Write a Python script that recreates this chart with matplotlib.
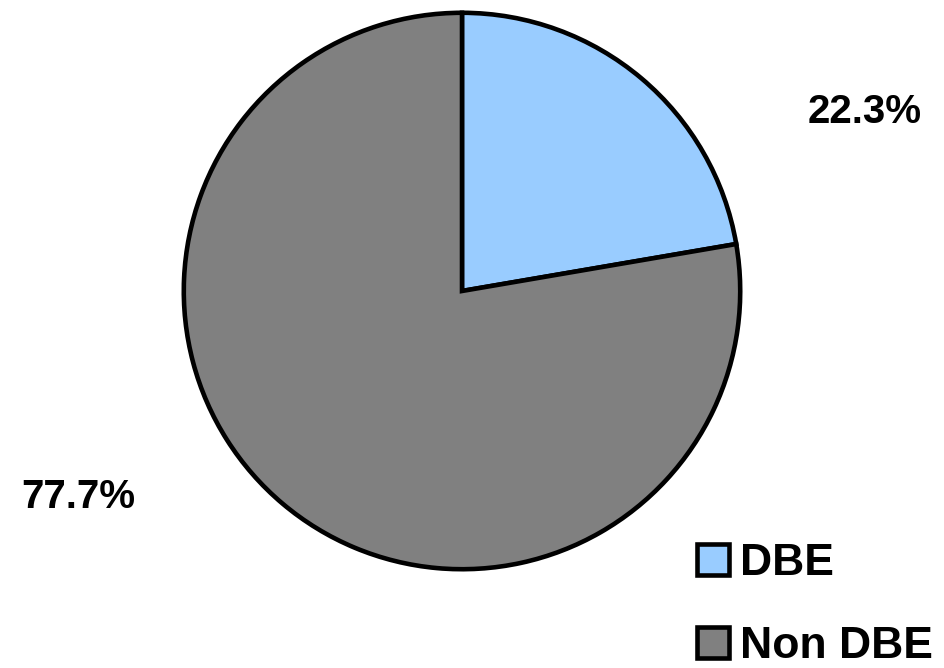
import matplotlib.pyplot as plt

labels = ['DBE', 'Non DBE']
shares = [22.3, 77.7]
colours = ['#99CCFF', '#808080']

plt.rcParams['font.family'] = ['Liberation Sans', 'DejaVu Sans']

fig = plt.figure(figsize=(9.44, 6.68), dpi=100)
ax = fig.add_axes([181 / 944, 96 / 668, 562 / 944, 562 / 668])
wedges, _ = ax.pie(shares, colors=colours, startangle=90, counterclock=False,
                   wedgeprops=dict(edgecolor='black', linewidth=3.3))
ax.set_xlim(-1.01, 1.01)
ax.set_ylim(-1.01, 1.01)
ax.set_aspect('equal')

# percentage labels, placed like the original
fig.text(865 / 944, 1 - 112 / 668, f'{shares[0]:.1f}%', ha='center', va='center',
         fontsize=29, fontweight='bold')
fig.text(78 / 944, 1 - 497 / 668, f'{shares[1]:.1f}%', ha='center', va='center',
         fontsize=29, fontweight='bold')

fig.legend(wedges, labels, loc='center left', bbox_to_anchor=(697 / 944, 1 - 605 / 668),
           frameon=False, prop=dict(size=32, weight='bold'), handlelength=0.72,
           handleheight=0.72, handletextpad=0.25, labelspacing=0.95,
           borderpad=0, borderaxespad=0)

fig.savefig('out.png', dpi=100)
